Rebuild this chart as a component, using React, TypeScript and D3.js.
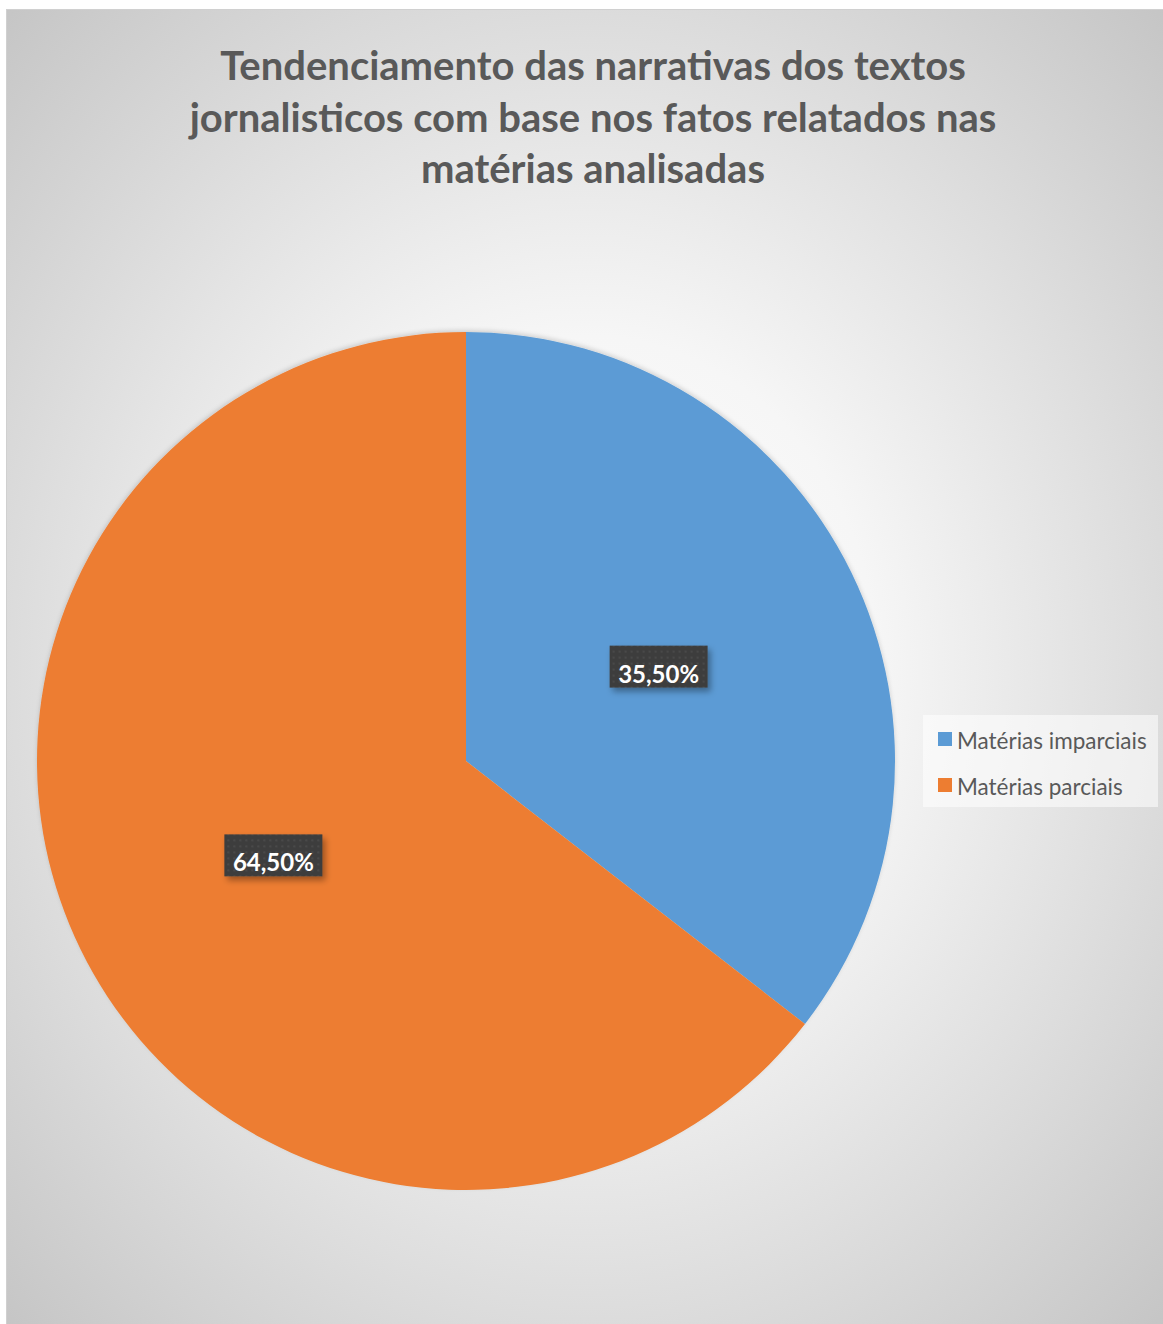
import React from "react";
import * as d3 from "d3";

const categories = ["Matérias imparciais", "Matérias parciais"];
const values = [35.5, 64.5];
const labels = ["35,50%", "64,50%"];
const colors = ["#5B9BD5", "#ED7D31"];
const titleLines = [
  "Tendenciamento das narrativas dos textos",
  "jornalisticos com base nos fatos relatados nas",
  "matérias analisadas",
];

const W = 1163;
const H = 1324;

export default function App() {
  const cx = 466;
  const cy = 761;
  const r = 429;
  const pie = d3.pie<number>().sort(null).value((d) => d);
  const arcs = pie(values);
  const arc = d3.arc<d3.PieArcDatum<number>>().innerRadius(0).outerRadius(r);
  const labelArc = d3.arc<d3.PieArcDatum<number>>().innerRadius(r * 0.5).outerRadius(r * 0.5);

  return (
    <svg width={W} height={H} style={{ position: "absolute", left: 0, top: 0 }}>
      <defs>
        <radialGradient id="bg" cx="0.5" cy="0.5" r="0.72">
          <stop offset="0" stopColor="#ffffff" />
          <stop offset="0.35" stopColor="#f6f6f6" />
          <stop offset="1" stopColor="#c4c4c4" />
        </radialGradient>
        <pattern id="dots" width="6" height="6" patternUnits="userSpaceOnUse">
          <rect width="6" height="6" fill="#3d3d3d" />
          <circle cx="3" cy="3" r="1.1" fill="#4d4d4d" />
        </pattern>
        <filter id="sh" x="-10%" y="-10%" width="130%" height="140%">
          <feDropShadow dx="3" dy="4" stdDeviation="3" floodColor="#000" floodOpacity="0.35" />
        </filter>
        <filter id="pieSh" x="-10%" y="-10%" width="120%" height="120%">
          <feDropShadow dx="0" dy="-2" stdDeviation="2" floodColor="#000" floodOpacity="0.15" />
        </filter>
      </defs>
      <rect x={0} y={0} width={W} height={H} fill="#ffffff" />
      <rect x={6.5} y={9.5} width={W - 6} height={H - 9} fill="url(#bg)" stroke="#d0d0d0" strokeWidth={1} />
      <g fontFamily="Lato, 'Open Sans', sans-serif" fontWeight="bold" fontSize={40} fill="#595959" textAnchor="middle">
        {titleLines.map((t, i) => (
          <text key={i} x={593} y={80 + i * 51.5}>
            {t}
          </text>
        ))}
      </g>
      <g transform={`translate(${cx},${cy})`} filter="url(#pieSh)">
        {arcs.map((a, i) => (
          <path key={i} d={arc(a) || ""} fill={colors[i]} />
        ))}
      </g>
      <g transform={`translate(${cx},${cy})`}>
        {arcs.map((a, i) => {
          const [lx, ly] = labelArc.centroid(a);
          const bw = 98;
          const bh = 42;
          return (
            <g key={i} transform={`translate(${lx},${ly})`}>
              <rect x={-bw / 2} y={-bh / 2} width={bw} height={bh} fill="url(#dots)" filter="url(#sh)" />
              <text
                x={0}
                y={16}
                textAnchor="middle"
                fontFamily="Lato, 'Open Sans', sans-serif"
                fontWeight="bold"
                fontSize={24}
                fill="#ffffff"
              >
                {labels[i]}
              </text>
            </g>
          );
        })}
      </g>
      <g>
        <rect x={923} y={715} width={235} height={92} fill="#ffffff" fillOpacity={0.55} />
        {categories.map((c, i) => (
          <g key={i} transform={`translate(938,${732 + i * 46})`}>
            <rect x={0} y={0} width={14} height={14} fill={colors[i]} />
            <text
              x={19}
              y={17}
              fontFamily="Lato, 'Open Sans', sans-serif"
              fontSize={22.5}
              fill="#595959"
            >
              {c}
            </text>
          </g>
        ))}
      </g>
    </svg>
  );
}
